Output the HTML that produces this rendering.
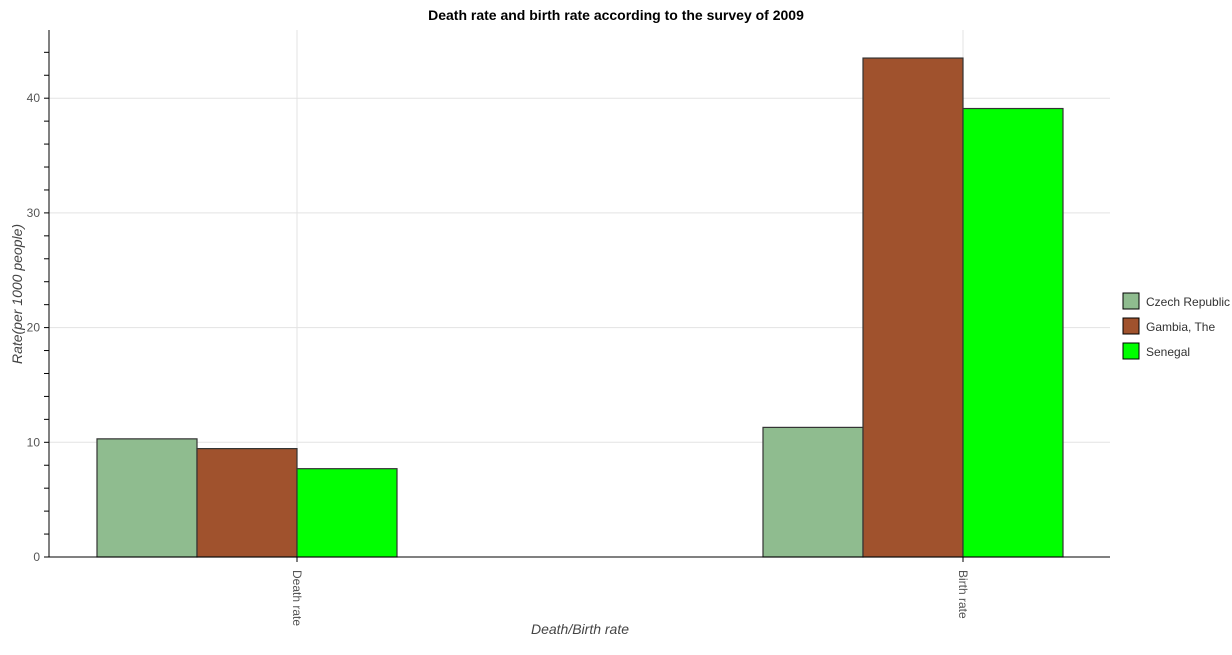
<!DOCTYPE html>
<html><head><style>
body{margin:0;background:#fff;font-family:"Liberation Sans",sans-serif;}
</style></head><body>
<svg width="1232" height="650" id="c" font-family="Liberation Sans, sans-serif">
<text x="616" y="20" text-anchor="middle" font-size="14" font-weight="bold">Death rate and birth rate according to the survey of 2009</text>
<text transform="translate(22,294) rotate(-90)" text-anchor="middle" font-size="14" font-style="italic" fill="#444">Rate(per 1000 people)</text>
<text x="580" y="634" text-anchor="middle" font-size="14" font-style="italic" fill="#444">Death/Birth rate</text>
<g id="legend"></g>
</svg>
<script>
const categories=["Death rate","Birth rate"];
const seriesNames=["Czech Republic","Gambia, The","Senegal"];
const czech=[10.3,11.3];
const gambia=[9.45,43.5];
const senegal=[7.7,39.1];
const yTicks=[0,10,20,30,40];
const colors=["#8fbc8f","#a0522d","#00ff00"];
const svg=document.getElementById('c');
const NS="http://www.w3.org/2000/svg";
const X0=49,X1=1110,Y0=557,YT=30;
const y=v=>Y0-v*11.47;
function mk(t,a){const e=document.createElementNS(NS,t);for(const k in a)e.setAttribute(k,a[k]);svg.appendChild(e);return e;}
const centers=[297,963];
for(const c of centers){const g=mk('line',{x1:c,x2:c,y1:YT,y2:Y0,stroke:'#e3e3e3'});}
for(let v=0;v<=44;v+=2){
 if(v%10===0){const g=mk('line',{x1:X0,x2:X1,y1:y(v),y2:y(v),stroke:'#e3e3e3'});}
 const t=mk('line',{x1:X0-5,x2:X0,y1:y(v),y2:y(v),stroke:'#000'});
}
for(const v of yTicks){const t=mk('text',{x:X0-9,y:y(v)+4,'text-anchor':'end','font-size':'12',fill:'#555'});t.textContent=v;}
const series=[czech,gambia,senegal];
const bw=100;
series.forEach((s,si)=>{s.forEach((v,ci)=>{
 const x=centers[ci]-200+si*bw;
 const r=mk('rect',{x:x,y:y(v),width:bw,height:Y0-y(v),fill:colors[si],stroke:'#333','stroke-width':1.2});
 
 
});});
mk('line',{x1:X0,x2:X0,y1:YT,y2:Y0,stroke:'#000'});
mk('line',{x1:X0,x2:X1,y1:Y0,y2:Y0,stroke:'#000'});
categories.forEach((c,i)=>{
 const t=mk('line',{x1:centers[i],x2:centers[i],y1:Y0,y2:Y0+5,stroke:'#000'});
 const l=mk('text',{transform:`translate(${centers[i]-4},570) rotate(90)`,'font-size':'12',fill:'#555'});l.textContent=c;
 
 
});
seriesNames.forEach((n,i)=>{
 const yy=293+i*25;
 const r=mk('rect',{x:1123,y:yy,width:16,height:16,fill:colors[i],stroke:'#000'});
 
 
 const t=mk('text',{x:1146,y:yy+13,'font-size':'12',fill:'#333'});t.textContent=n;
 
 
});
</script>
</body></html>
